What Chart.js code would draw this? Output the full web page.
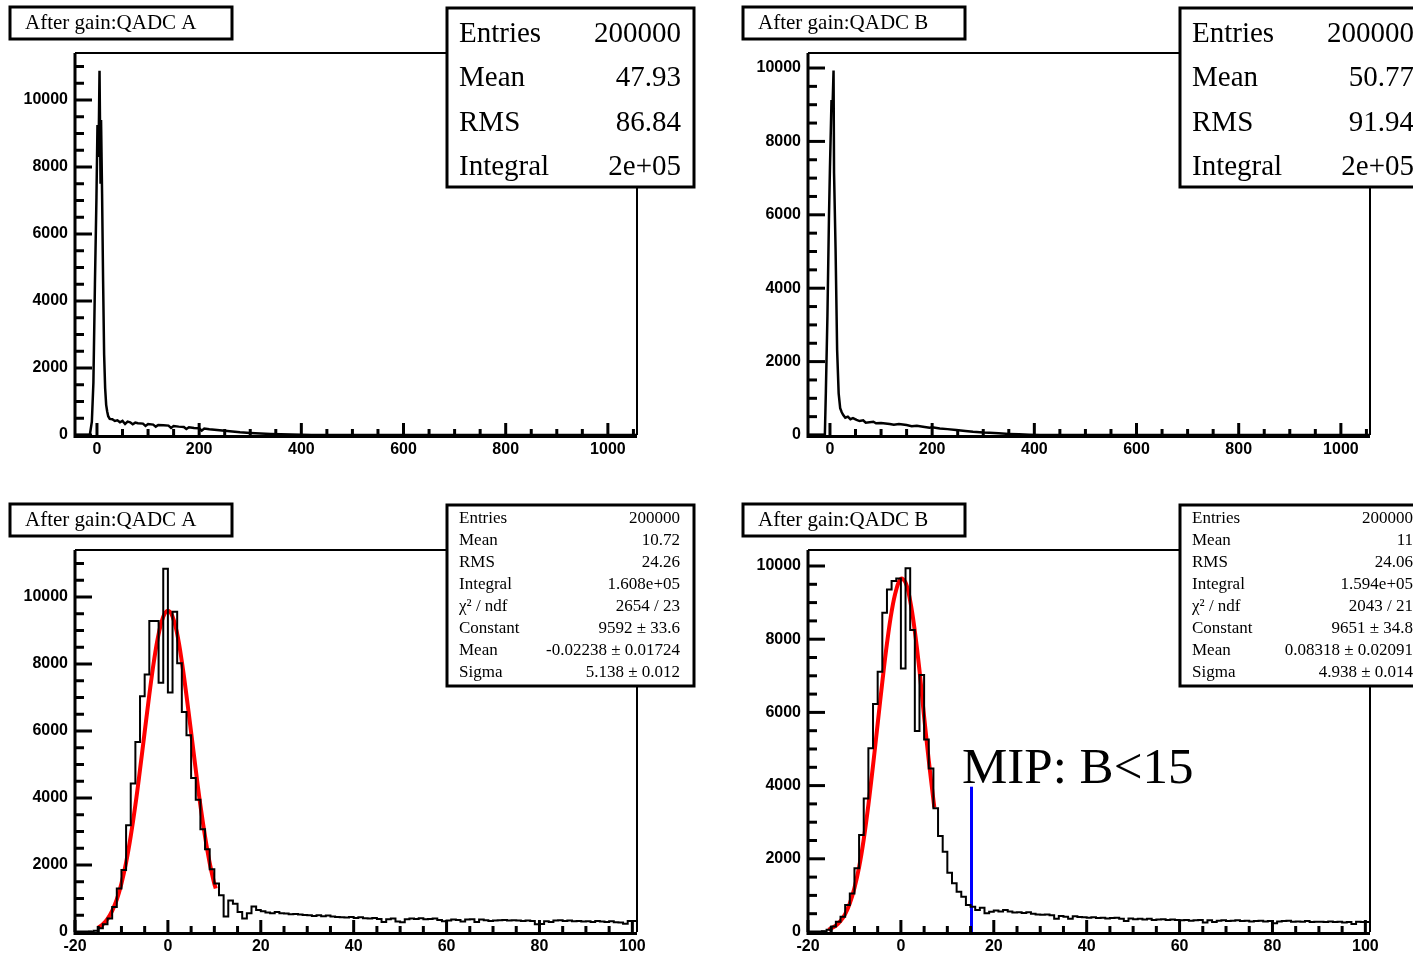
<!DOCTYPE html>
<html>
<head>
<meta charset="utf-8">
<script src="https://cdn.jsdelivr.net/npm/chart.js@4.4.0/dist/chart.umd.min.js"></script>
<style>
html, body { margin: 0; padding: 0; background: #fff; overflow: hidden; width: 1413px; height: 956px; }
canvas { position: absolute; }
</style>
</head>
<body>
<canvas id="pA" width="706" height="478" style="left:0;top:0"></canvas>
<canvas id="pB" width="706" height="478" style="left:733px;top:0"></canvas>
<canvas id="pC" width="706" height="478" style="left:0;top:497px"></canvas>
<canvas id="pD" width="706" height="478" style="left:733px;top:497px"></canvas>
<script>
/* full range spectra */
const fullAX = [-43,-14,-10,-7,-4,-1,1,3,5,7,8,10,12,14,16,18,20,22,25,30,35,40,45,50,55,60,65,70,75,80,90,95,100,110,115,120,130,140,145,150,160,170,175,180,190,200,205,210,220,240,260,280,300,320,340,360,380,400,420,1057];
const fullAY = [0,0,400,1550,4500,7100,9250,8300,10875,7500,9400,7200,4600,2400,1400,900,700,560,480,470,420,440,380,420,330,400,380,320,370,350,340,270,330,310,250,300,290,280,210,270,250,240,180,230,210,200,130,190,170,140,110,80,60,45,30,20,12,5,0,0];
const fullBX = [-43,-10,-8,-5,-2,0,3,5,7,8,11,14,17,20,23,26,30,35,40,45,52,58,65,70,85,90,100,117,125,135,150,160,170,182,195,200,215,230,247,265,280,300,312,330,350,370,390,410,1057];
const fullBY = [0,0,1200,3220,5900,7310,9130,8900,9930,7130,5040,2320,1135,727,620,545,470,500,430,460,410,380,400,335,360,320,330,300,280,300,272,240,250,226,200,210,180,160,136,110,90,70,63,45,30,18,10,0,0];

/* zoomed spectra: 1-unit bins starting at -20 */
const binStart = -20;
const countsA = [0,0,0,0,10,40,110,230,400,750,1300,1850,3190,4430,5670,7040,7690,9280,9280,7440,
  10840,7150,9560,8020,6570,5870,4600,3950,3070,2470,1870,1450,1100,460,940,840,600,400,560,760,660,
  620,580,560,600,560,550,530,540,520,510,500,480,500,470,490,460,450,440,430,450,
  420,440,410,400,420,390,300,380,400,310,290,380,400,390,410,380,390,400,360,320,
  340,370,360,310,370,380,300,370,350,330,340,350,360,340,350,340,330,340,330,230,
  240,320,300,340,350,330,340,320,330,310,320,300,330,310,300,320,290,280,250,330];
const countsB = [0,0,0,0,20,60,150,280,420,740,1050,1740,2650,3650,5020,6230,7110,8720,9360,9590,
  9660,7200,9935,8250,5490,7020,5260,4470,3380,2620,2190,1620,1330,1100,965,740,690,600,665,510,555,
  590,560,600,560,530,540,520,540,500,480,470,480,460,360,440,420,360,430,410,400,
  390,400,380,390,370,380,390,360,300,370,350,360,340,360,330,340,350,330,340,330,
  320,330,310,320,330,260,320,270,310,320,300,310,320,300,310,290,300,310,290,300,
  240,290,300,310,280,290,280,300,270,280,280,270,290,270,280,260,270,220,280,270];

/* gaussian fit curves */
const fitAX = [-15,-14,-13,-12,-11,-10,-9,-8,-7,-6,-5,-4,-3,-2,-1,0,1,2,3,4,5,6,7,8,9,10,10.3];
const fitAY = [130,230,390,630,970,1450,2070,2860,3790,4850,5970,7080,8090,8890,9410,9590,9420,8900,8070,7060,5960,4840,3780,2850,2060,1440,1300];
const fitBX = [-15.6,-15,-14,-13,-12,-11,-10,-9,-8,-7,-6,-5,-4,-3,-2,-1,0,1,2,3,4,5,6,7,7.2];
const fitBY = [60,100,175,300,490,780,1200,1770,2530,3470,4550,5690,6830,7880,8750,9350,9650,9550,9050,8220,7150,5880,4690,3610,3400];
const cutB = 15.2;
const cutTop = 3970;

const xTicksFull = [0,200,400,600,800,1000];
const xTicksZoom = [-20,0,20,40,60,80,100];
const yTicks = [0,2000,4000,6000,8000,10000];

const statsFullA = [['Entries','200000'],['Mean','47.93'],['RMS','86.84'],['Integral','2e+05']];
const statsFullB = [['Entries','200000'],['Mean','50.77'],['RMS','91.94'],['Integral','2e+05']];
const statsZoomA = [['Entries','200000'],['Mean','10.72'],['RMS','24.26'],['Integral','1.608e+05'],
  ['\u03c7\u00b2 / ndf','2654 / 23'],['Constant','9592 \u00b1 33.6'],['Mean','-0.02238 \u00b1 0.01724'],['Sigma','5.138 \u00b1 0.012']];
const statsZoomB = [['Entries','200000'],['Mean','11'],['RMS','24.06'],['Integral','1.594e+05'],
  ['\u03c7\u00b2 / ndf','2043 / 21'],['Constant','9651 \u00b1 34.8'],['Mean','0.08318 \u00b1 0.02091'],['Sigma','4.938 \u00b1 0.014']];

const SERIF = "'Liberation Serif', 'Times New Roman', serif";
const SANS = "'Liberation Sans', Arial, sans-serif";

function pairs(xs, ys) { return xs.map((x, i) => ({ x: x, y: ys[i] })); }
function histPoints(counts) {
  const pts = counts.map((c, i) => ({ x: binStart + i, y: c }));
  pts.push({ x: binStart + counts.length, y: counts[counts.length - 1] });
  return pts;
}

function panel(id, p) {
  const rootLook = {
    id: 'rootLook',
    afterDatasetsDraw(chart) {
      const ctx = chart.ctx;
      const { left, right, top, bottom } = chart.chartArea;
      const xs = chart.scales.x, ys = chart.scales.y;
      ctx.save();
      ctx.strokeStyle = '#000';
      // frame
      ctx.lineWidth = 2;
      ctx.beginPath();
      ctx.moveTo(left, top); ctx.lineTo(right, top); ctx.lineTo(right, bottom);
      ctx.stroke();
      // axes
      ctx.lineWidth = 3;
      ctx.beginPath();
      ctx.moveTo(left, top); ctx.lineTo(left, bottom + 1.5); ctx.lineTo(right, bottom + 1.5);
      ctx.stroke();
      // y ticks (inward)
      for (let v = 0; v <= ys.max; v += 500) {
        const py = ys.getPixelForValue(v);
        const len = v % 2000 === 0 ? 17 : 9;
        ctx.beginPath(); ctx.moveTo(left, py); ctx.lineTo(left + len, py); ctx.stroke();
      }
      // x ticks (inward)
      const first = Math.ceil(xs.min / p.xMinor) * p.xMinor;
      for (let v = first; v <= xs.max; v += p.xMinor) {
        const px = xs.getPixelForValue(v);
        const len = p.xTicks.includes(v) ? 12 : 6;
        ctx.beginPath(); ctx.moveTo(px, bottom); ctx.lineTo(px, bottom - len); ctx.stroke();
      }
      // title box
      ctx.fillStyle = '#fff';
      ctx.fillRect(10, 7, 222, 32);
      ctx.strokeRect(10, 7, 222, 32);
      ctx.fillStyle = '#000';
      ctx.font = '21px ' + SERIF;
      ctx.textBaseline = 'middle';
      ctx.textAlign = 'left';
      ctx.fillText(p.title, 25, 23);
      // stats box
      const sb = p.statsBox;
      ctx.fillStyle = '#fff';
      ctx.fillRect(447, 8, 247, sb.h);
      ctx.strokeRect(447, 8, 247, sb.h);
      ctx.fillStyle = '#000';
      ctx.font = sb.size + 'px ' + SERIF;
      p.stats.forEach((row, i) => {
        const yy = sb.y0 + i * sb.dy;
        ctx.textAlign = 'left'; ctx.fillText(row[0], 459, yy);
        ctx.textAlign = 'right'; ctx.fillText(row[1], sb.xr, yy);
      });
      if (p.note) {
        ctx.textAlign = 'left';
        ctx.textBaseline = 'alphabetic';
        ctx.font = '51px ' + SERIF;
        ctx.fillText(p.note, 229, 286);
      }
      ctx.restore();
    }
  };

  new Chart(document.getElementById(id), {
    type: 'line',
    data: { datasets: p.datasets },
    options: {
      responsive: false,
      animation: false,
      devicePixelRatio: 1,
      layout: { padding: { top: 53, right: 69, bottom: 18, left: 0 } },
      plugins: { legend: { display: false }, tooltip: { enabled: false } },
      elements: { point: { radius: 0 } },
      scales: {
        x: {
          type: 'linear', min: p.xMin, max: p.xMax,
          grid: { display: false, drawTicks: false },
          border: { display: false },
          ticks: { color: '#000', font: { family: SANS, weight: 'bold', size: 16 }, padding: 5, autoSkip: false, maxRotation: 0,
            callback: v => String(v) },
          afterBuildTicks: s => { s.ticks = p.xTicks.map(v => ({ value: v })); },
          afterFit: s => { s.height = 25; }
        },
        y: {
          type: 'linear', min: 0, max: p.yMax,
          grid: { display: false, drawTicks: false },
          border: { display: false },
          ticks: { color: '#000', font: { family: SANS, weight: 'bold', size: 16 }, padding: 7, autoSkip: false,
            callback: v => String(v) },
          afterBuildTicks: s => { s.ticks = yTicks.map(v => ({ value: v })); },
          afterFit: s => { s.width = 75; }
        }
      }
    },
    plugins: [rootLook]
  });
}

const bigStats = { h: 179, size: 29, y0: 34, dy: 44.5, xr: 681 };
const smallStats = { h: 181, size: 17, y0: 22, dy: 21.9, xr: 680 };

panel('pA', {
  title: 'After gain:QADC A', xMin: -43, xMax: 1057, yMax: 11403, xTicks: xTicksFull, xMinor: 50,
  stats: statsFullA, statsBox: bigStats,
  datasets: [{ data: pairs(fullAX, fullAY), borderColor: '#000', borderWidth: 2.5, tension: 0 }]
});
panel('pB', {
  title: 'After gain:QADC B', xMin: -43, xMax: 1057, yMax: 10409, xTicks: xTicksFull, xMinor: 50,
  stats: statsFullB, statsBox: bigStats,
  datasets: [{ data: pairs(fullBX, fullBY), borderColor: '#000', borderWidth: 2.5, tension: 0 }]
});
panel('pC', {
  title: 'After gain:QADC A', xMin: -20, xMax: 101, yMax: 11403, xTicks: xTicksZoom, xMinor: 5,
  stats: statsZoomA, statsBox: smallStats,
  datasets: [
    { data: histPoints(countsA), borderColor: '#000', borderWidth: 2, stepped: 'after' },
    { data: pairs(fitAX, fitAY), borderColor: '#ff0000', borderWidth: 4, tension: 0.4 }
  ]
});
panel('pD', {
  title: 'After gain:QADC B', xMin: -20, xMax: 101, yMax: 10437, xTicks: xTicksZoom, xMinor: 5,
  stats: statsZoomB, statsBox: smallStats, note: 'MIP: B<15',
  datasets: [
    { data: histPoints(countsB), borderColor: '#000', borderWidth: 2, stepped: 'after' },
    { data: pairs(fitBX, fitBY), borderColor: '#ff0000', borderWidth: 4, tension: 0.4 },
    { data: [{ x: cutB, y: 0 }, { x: cutB, y: cutTop }], borderColor: '#0000ff', borderWidth: 3 }
  ]
});
</script>
</body>
</html>
